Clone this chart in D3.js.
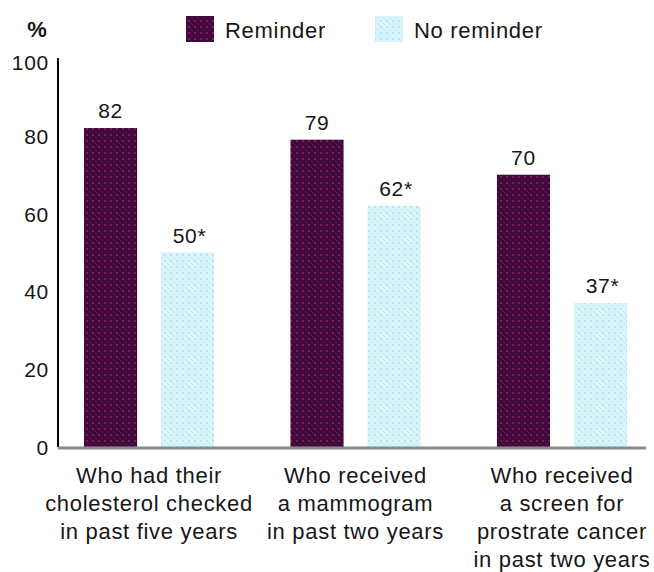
<!DOCTYPE html>
<html><head><meta charset="utf-8">
<script src="https://cdn.jsdelivr.net/npm/d3@7"></script>
<style>body{margin:0;background:#fff}svg{display:block}text{font-family:"Liberation Sans",Arial,sans-serif;fill:#161616}</style>
</head><body><svg id="c" width="654" height="572"></svg>
<script>
const categories = [
  ["Who had their","cholesterol checked","in past five years"],
  ["Who received","a mammogram","in past two years"],
  ["Who received","a screen for","prostrate cancer","in past two years"]
];
const series = ["Reminder","No reminder"];
const reminder = [82,79,70];
const noReminder = [50,62,37];
const valueLabels = [["82","79","70"],["50*","62*","37*"]];
const yTicks = [0,20,40,60,80,100];

const svg = d3.select("#c");
const defs = svg.append("defs");
const p1 = defs.append("pattern").attr("id","pr").attr("width",6).attr("height",6).attr("patternUnits","userSpaceOnUse");
p1.append("rect").attr("width",6).attr("height",6).attr("fill","#3e0838");
p1.append("circle").attr("cx",3).attr("cy",3).attr("r",1.3).attr("fill","#7a1a5c");
p1.append("circle").attr("cx",0).attr("cy",0).attr("r",1.1).attr("fill","#5a2a6a");
p1.append("circle").attr("cx",6).attr("cy",6).attr("r",1.1).attr("fill","#5a2a6a");
const p2 = defs.append("pattern").attr("id","pn").attr("width",6).attr("height",6).attr("patternUnits","userSpaceOnUse");
p2.append("rect").attr("width",6).attr("height",6).attr("fill","#d8f6fa");
p2.append("circle").attr("cx",3).attr("cy",3).attr("r",1.2).attr("fill","#b4e4f4");
p2.append("circle").attr("cx",0).attr("cy",0).attr("r",1).attr("fill","#c4d8f4");
p2.append("circle").attr("cx",6).attr("cy",6).attr("r",1).attr("fill","#c4d8f4");
const fills = ["url(#pr)","url(#pn)"];

const FS = 21, LS = 0.7;
const y = d3.scaleLinear().domain([0,100]).range([447,58]);
const x0 = d3.scaleBand().domain(d3.range(3)).range([84,627]).paddingInner(0.37).paddingOuter(0);
const x1 = d3.scaleBand().domain([0,1]).range([0,x0.bandwidth()]).paddingInner(0.31).paddingOuter(0);

const data = [reminder,noReminder];
for (let s=0;s<2;s++){
  svg.append("g").selectAll("rect").data(data[s]).join("rect")
    .attr("x",(d,i)=>x0(i)+x1(s))
    .attr("y",d=>y(d)).attr("width",x1.bandwidth()).attr("height",d=>y(0)-y(d))
    .attr("fill",fills[s]);
  svg.append("g").selectAll("text").data(data[s]).join("text")
    .attr("x",(d,i)=>x0(i)+x1(s)+x1.bandwidth()/2 + (s===1?2:0))
    .attr("y",d=>y(d)-10).attr("text-anchor","middle").attr("font-size",FS).attr("letter-spacing",LS)
    .text((d,i)=>valueLabels[s][i]);
}
const ya = svg.append("g").attr("transform","translate(58,0)")
  .call(d3.axisLeft(y).tickValues(yTicks).tickSize(0).tickPadding(9).tickFormat(d3.format("d")));
ya.select(".domain").remove();
ya.selectAll("text").attr("font-size",FS).attr("letter-spacing",LS).attr("font-family","Liberation Sans, Arial, sans-serif").attr("fill","#161616").attr("dy","0.36em")
  .attr("transform",d=>d===100?"translate(0,4)":null);
svg.append("line").attr("x1",58).attr("x2",58).attr("y1",y(100)).attr("y2",y(0)).attr("stroke","#000").attr("stroke-width",2);
svg.append("line").attr("x1",58).attr("x2",646).attr("y1",y(0)+1).attr("y2",y(0)+1).attr("stroke","#8a8a8a").attr("stroke-width",3);
svg.append("text").attr("x",37).attr("y",37).attr("text-anchor","middle").attr("font-size",22).attr("font-weight","bold").text("%");

categories.forEach((lines,i)=>{
  const cx = x0(i)+x0.bandwidth()/2;
  const t = svg.append("text").attr("text-anchor","middle").attr("font-size",FS+1).attr("letter-spacing",LS);
  lines.forEach((l,j)=>t.append("tspan").attr("x",cx).attr("y",483+j*28).text(l));
});

const legX = [186,375];
series.forEach((s,i)=>{
  svg.append("rect").attr("x",legX[i]).attr("y",16).attr("width",28).attr("height",26).attr("fill",fills[i]);
  svg.append("text").attr("x",legX[i]+39).attr("y",38).attr("font-size",FS+1).attr("letter-spacing",LS).text(s);
});
</script></body></html>
